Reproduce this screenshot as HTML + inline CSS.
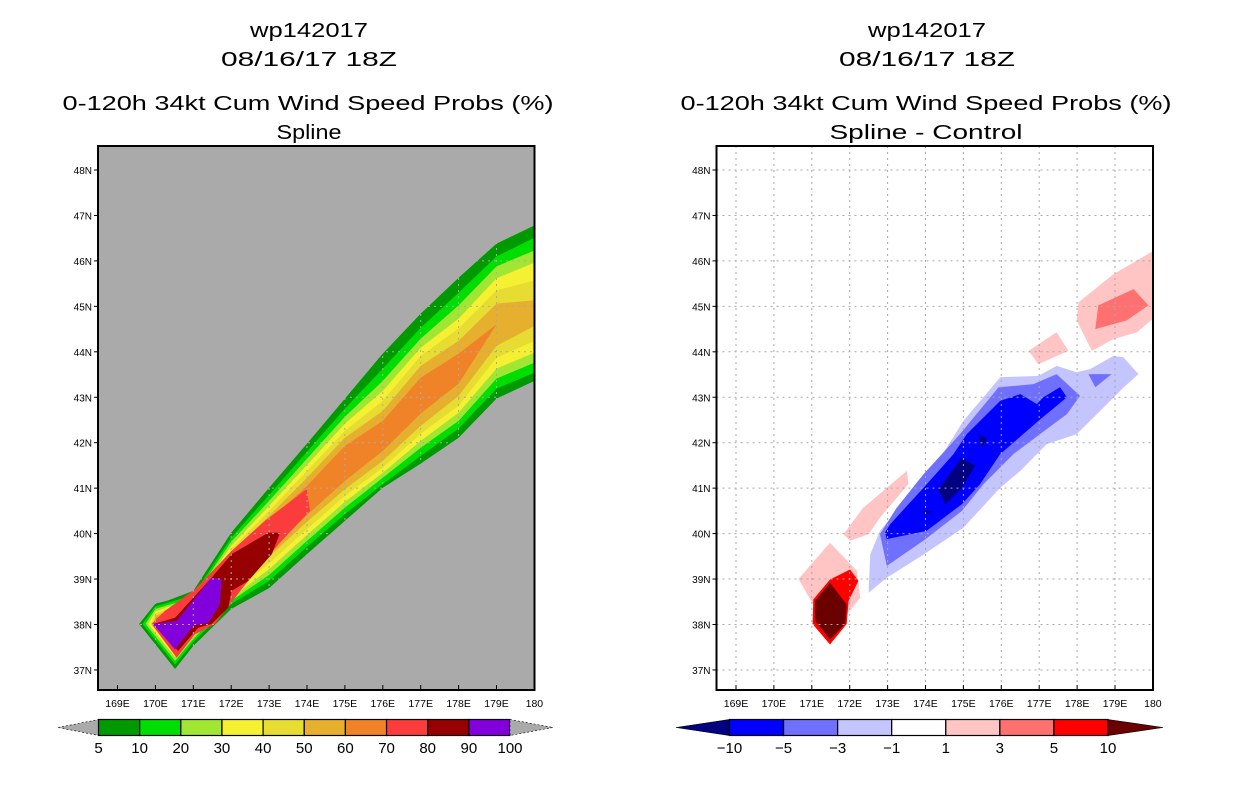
<!DOCTYPE html>
<html><head><meta charset="utf-8">
<style>
html,body{margin:0;padding:0;background:#fff;}
svg{display:block;font-family:"Liberation Sans",sans-serif;}
</style></head>
<body>
<svg id="chart" width="1236" height="800" viewBox="0 0 1236 800" xmlns="http://www.w3.org/2000/svg">
<defs>
<clipPath id="clipL"><rect x="98" y="146" width="436" height="544"/></clipPath>
<clipPath id="clipR"><rect x="716.5" y="146" width="436" height="544"/></clipPath>
</defs>
<g font-size="20" text-anchor="middle" fill="#000">
<text x="309" y="37" textLength="118" lengthAdjust="spacingAndGlyphs">wp142017</text>
<text x="309" y="66" textLength="176" lengthAdjust="spacingAndGlyphs">08/16/17 18Z</text>
<text x="308" y="110" textLength="491" lengthAdjust="spacingAndGlyphs">0-120h 34kt Cum Wind Speed Probs (%)</text>
<text x="309" y="139" textLength="65" lengthAdjust="spacingAndGlyphs">Spline</text>
</g>
<g font-size="20" text-anchor="middle" fill="#000">
<text x="927" y="37" textLength="118" lengthAdjust="spacingAndGlyphs">wp142017</text>
<text x="927" y="66" textLength="176" lengthAdjust="spacingAndGlyphs">08/16/17 18Z</text>
<text x="926" y="110" textLength="491" lengthAdjust="spacingAndGlyphs">0-120h 34kt Cum Wind Speed Probs (%)</text>
<text x="926" y="139" textLength="193" lengthAdjust="spacingAndGlyphs">Spline - Control</text>
</g>
<g id="left"></g>
<g id="right"></g>
<g id="cbars"></g>
</svg>
<script>
// ---- data ----
const lonTicks = [169,170,171,172,173,174,175,176,177,178,179,180];
const lonTickLabels = ["169E","170E","171E","172E","173E","174E","175E","176E","177E","178E","179E","180"];
const latTicks = [48,47,46,45,44,43,42,41,40,39,38,37];
const latTickLabels = ["48N","47N","46N","45N","44N","43N","42N","41N","40N","39N","38N","37N"];

const probLevels = [5,10,20,30,40,50,60,70,80,90,100];
const probColors = ["#009900","#00dd00","#a0e632","#f5f032","#e6dc32","#e6af2d","#f08228","#fa3c3c","#960000","#8200dc"];
const diffLevels = [-10,-5,-3,-1,1,3,5,10];
const diffColors = ["#000080","#0000ff","#7070ff","#c4c4ff","#ffffff","#ffc4c4","#ff7070","#ff0000","#6b0000"];

const topLons = [170.0,170.3,171,172,173,174,175,176,177,178,179,180];
const botLons = [170.52,171,172,173,174,175,176,177,178,179,180];
const tipLon = [169.57,169.66,169.74,169.81,169.88,169.95,170.02];
const tipLat = 38.01;
const plumeTop = [
 [38.46,38.52,38.74,40.02,41.01,41.98,42.97,43.96,44.84,45.63,46.38,46.78],
 [38.40,38.47,38.65,39.91,40.85,41.80,42.75,43.63,44.53,45.30,46.10,46.51],
 [38.34,38.42,38.58,39.82,40.72,41.65,42.57,43.36,44.29,45.02,45.88,46.23],
 [38.29,38.38,38.52,39.73,40.61,41.51,42.42,43.14,44.09,44.73,45.62,45.96],
 [38.24,38.34,38.47,39.66,40.50,41.38,42.26,42.92,43.91,44.51,45.35,45.57],
 [38.19,38.30,38.43,39.60,40.39,41.23,42.11,42.70,43.69,44.24,45.06,45.13],
 [38.14,38.26,38.38,39.55,40.28,41.05,41.93,42.48,43.43,43.96,44.60,44.86]
];
const plumeBot = [
 [37.02,37.53,38.34,38.80,39.55,40.28,41.01,41.54,42.11,42.97,43.36],
 [37.12,37.61,38.45,38.96,39.71,40.43,41.09,41.71,42.31,43.19,43.54],
 [37.20,37.68,38.52,39.09,39.84,40.57,41.23,41.89,42.48,43.41,43.76],
 [37.28,37.73,38.58,39.22,39.97,40.70,41.34,42.04,42.66,43.63,43.98],
 [37.35,37.77,38.65,39.35,40.10,40.83,41.45,42.20,42.81,43.87,44.24],
 [37.42,37.81,38.72,39.49,40.26,40.98,41.60,42.37,43.03,44.13,44.57],
 [37.49,37.85,38.78,39.62,40.41,41.16,41.82,42.64,43.30,44.60,44.86]
];
const core70 = [[173.99,40.98],[174.08,40.5],[173.33,39.84],[172.72,39.25],[172.1,38.59],[171.57,38.01],[171.04,37.78],[170.56,37.27],[169.9,38.01],[170.25,38.3],[171.04,38.77],[172.01,39.62],[172.89,40.28]];
const core80 = [[172.98,40.02],[173.29,40.02],[173.07,39.55],[172.45,38.96],[172.01,38.74],[171.92,38.37],[171.48,38.01],[171.13,37.93],[170.6,37.42],[169.94,38.01],[170.52,38.15],[171.48,39.03],[172.01,39.55]];
const core90 = [[171.48,39.03],[171.75,39.0],[171.7,38.44],[171.4,38.04],[171.0,37.97],[170.52,37.45],[169.94,38.01],[170.56,38.08]];

const diffPolys = [
 [5, [[179.95,46.19],[178.96,45.71],[178.04,45.09],[177.99,44.69],[178.39,44.02],[178.96,44.28],[179.58,44.43],[179.95,44.69],[180.2,44.8],[180.2,46.3]]],
 [6, [[178.48,44.5],[178.56,45.02],[179.49,45.38],[179.88,45.02],[179.31,44.69]]],
 [5, [[176.72,44.02],[177.46,44.43],[177.77,44.02],[176.98,43.73]]],
 [5, [[171.84,39.99],[172.36,40.57],[173.51,41.38],[173.55,41.09],[172.8,40.35],[172.5,39.99],[172.01,39.84]]],
 [5, [[170.65,39.0],[171.48,39.8],[172.19,39.18],[172.28,38.59],[171.92,38.22],[171.04,38.44]]],
 [7, [[171.04,38.55],[171.48,38.99],[172.01,39.21],[172.23,38.96],[171.97,38.52],[171.92,38.01],[171.48,37.56],[171.02,38.01]]],
 [8, [[171.09,38.52],[171.48,38.92],[171.92,38.44],[171.88,38.01],[171.48,37.67],[171.09,38.08]]],
 [3, [[172.5,38.7],[172.54,39.54],[172.8,40.06],[173.68,40.94],[174.39,41.67],[175.0,42.48],[175.97,43.44],[176.98,43.47],[177.46,43.69],[177.99,43.55],[178.34,43.62],[178.96,43.91],[179.22,43.88],[179.62,43.51],[179.22,43.21],[178.61,42.7],[177.99,42.19],[177.2,41.97],[176.5,41.38],[175.97,41.01],[175.0,40.13],[173.95,39.54],[172.98,39.03]]],
 [2, [[172.8,39.99],[173.24,40.57],[173.95,41.31],[174.91,42.19],[175.93,43.22],[176.85,43.29],[177.46,43.51],[178.08,43.03],[177.73,42.63],[177.02,42.19],[176.32,41.75],[175.53,41.09],[174.96,40.5],[173.99,39.87],[172.98,39.29]]],
 [2, [[178.3,43.51],[178.91,43.51],[178.48,43.22]]],
 [1, [[172.93,40.02],[173.07,40.21],[173.95,41.01],[174.74,41.75],[175.09,42.19],[175.97,42.92],[176.5,43.07],[176.94,42.85],[177.11,43.0],[177.55,43.22],[177.73,43.0],[176.98,42.48],[175.97,41.75],[175.44,41.09],[174.96,40.65],[174.03,40.06],[172.98,39.88]]],
 [0, [[174.34,40.98],[174.96,41.67],[175.31,41.49],[174.96,41.01],[174.52,40.65]]],
 [0, [[175.4,42.18],[175.62,42.1],[175.49,41.89]]],
 [0, [[173.9,40.5],[174.21,40.49],[173.99,40.43]]]
];

// ---- rendering ----
const NS = "http://www.w3.org/2000/svg";
function mk(tag, attrs, parent){const e=document.createElementNS(NS,tag);for(const k in attrs)e.setAttribute(k,attrs[k]);parent.appendChild(e);return e;}
const yOf = lat => 170 + (48 - lat) * 45.45;
function xScale(off){return lon => 193.3 + off + (lon - 171) * 37.9;}
function pts(list, xs){return list.map(p => xs(p[0]).toFixed(1)+","+yOf(p[1]).toFixed(1)).join(" ");}

function drawAxes(g, off, gridColor, xs){
  const x0 = 98 + off, x1 = 534.5 + off;
  const grid = mk("g", {"clip-path": off ? "url(#clipR)" : "url(#clipL)"}, g);
  
  
  lonTicks.forEach(l => { const x = xs(l); if (x > x0+2 && x < x1-2) mk("line",{x1:x,x2:x,y1:146,y2:690,stroke:gridColor,"stroke-width":1,"stroke-dasharray":"2,4"},grid);});
  latTicks.forEach(l => { const y = yOf(l); mk("line",{x1:x0,x2:x1,y1:y,y2:y,stroke:gridColor,"stroke-width":1,"stroke-dasharray":"2,4"},grid);});
  const frame = mk("rect",{x:x0,y:146,width:x1-x0,height:544,fill:"none",stroke:"#000","stroke-width":2},g);
  
  
  lonTicks.forEach((l,i) => {
    const x = xs(l);
    mk("line",{x1:x,x2:x,y1:685,y2:690,stroke:"#000","stroke-width":1},g);
    const t = mk("text",{x:x,y:707,"font-size":10.5,"text-anchor":"middle"},g);
    
    
    t.textContent = lonTickLabels[i];
  });
  latTicks.forEach((l,i) => {
    const y = yOf(l);
    mk("line",{x1:x0-4,x2:x0,y1:y,y2:y,stroke:"#000","stroke-width":1},g);
    const t = mk("text",{x:x0-6,y:y+4,"font-size":10,"text-anchor":"end"},g);
    
    
    t.textContent = latTickLabels[i];
  });
}

(function(){
  const g = document.getElementById("left");
  const xs = xScale(0);
  mk("rect",{x:98,y:146,width:436.5,height:544,fill:"#aaaaaa"},g);
  const c = mk("g",{"clip-path":"url(#clipL)"},g);
  
  
  plumeTop.forEach((top, k) => {
    const poly = [[tipLon[k], tipLat]];
    topLons.forEach((lon,i) => poly.push([lon, top[i]]));
    poly.push([180.3, top[top.length-1]]);
    poly.push([180.3, plumeBot[k][plumeBot[k].length-1]]);
    for (let i = botLons.length-1; i >= 0; i--) poly.push([botLons[i], plumeBot[k][i]]);
    const p = mk("polygon",{points:pts(poly,xs),fill:probColors[k]},c);
    
    
  });
  [[core70,7],[core80,8],[core90,9]].forEach(([poly,k]) => {
    const p = mk("polygon",{points:pts(poly,xs),fill:probColors[k]},c);
    
    
  });
  drawAxes(g, 0, "#aaaaaa", xs);
})();

(function(){
  const g = document.getElementById("right");
  const xs = xScale(618.5);
  mk("rect",{x:716.5,y:146,width:436,height:544,fill:"#ffffff"},g);
  const c = mk("g",{"clip-path":"url(#clipR)"},g);
  
  
  diffPolys.forEach(([k, poly]) => {
    const p = mk("polygon",{points:pts(poly,xs),fill:diffColors[k]},c);
    
    
  });
  drawAxes(g, 618.5, "#a8a8a8", xs);
})();

function colorbar(g, tipL, x0, x1, tipR, colors, labels, dashed, nm){
  const yT = 719.5, yB = 735.5, yM = 727.5;
  const n = colors.length - 2;
  const w = (x1 - x0) / n;
  const cg = mk("g",{},g);
  
  
  mk("polygon",{points:`${tipL},${yM} ${x0},${yT} ${x0},${yB}`,fill:colors[0],stroke:"#000","stroke-width":0.6,"stroke-dasharray":dashed?"2,2":"none"},cg);
  for (let i = 0; i < n; i++) {
    const r = mk("rect",{x:x0+i*w,y:yT,width:w,height:yB-yT,fill:colors[1+i],stroke:"#000","stroke-width":1.2},cg);
    
    
  }
  mk("polygon",{points:`${x1},${yT} ${tipR},${yM} ${x1},${yB}`,fill:colors[colors.length-1],stroke:"#000","stroke-width":0.6,"stroke-dasharray":dashed?"2,2":"none"},cg);
  labels.forEach((lab,i) => {
    const x = labels.length === n+1 ? x0 + i*w : x0 + (i+1)*w;
    const t = mk("text",{x:x,y:753,"font-size":15,"text-anchor":"middle"},cg);
    
    
    t.textContent = lab;
  });
}
const cb = document.getElementById("cbars");
colorbar(cb, 58, 98.5, 510, 553, ["#aaaaaa"].concat(probColors).concat(["#aaaaaa"]), probLevels.map(String), true, "probability-colorbar");
colorbar(cb, 676, 729.5, 1108, 1163, diffColors, ["\u221210","\u22125","\u22123","\u22121","1","3","5","10"], false, "difference-colorbar");
</script>
</body></html>
